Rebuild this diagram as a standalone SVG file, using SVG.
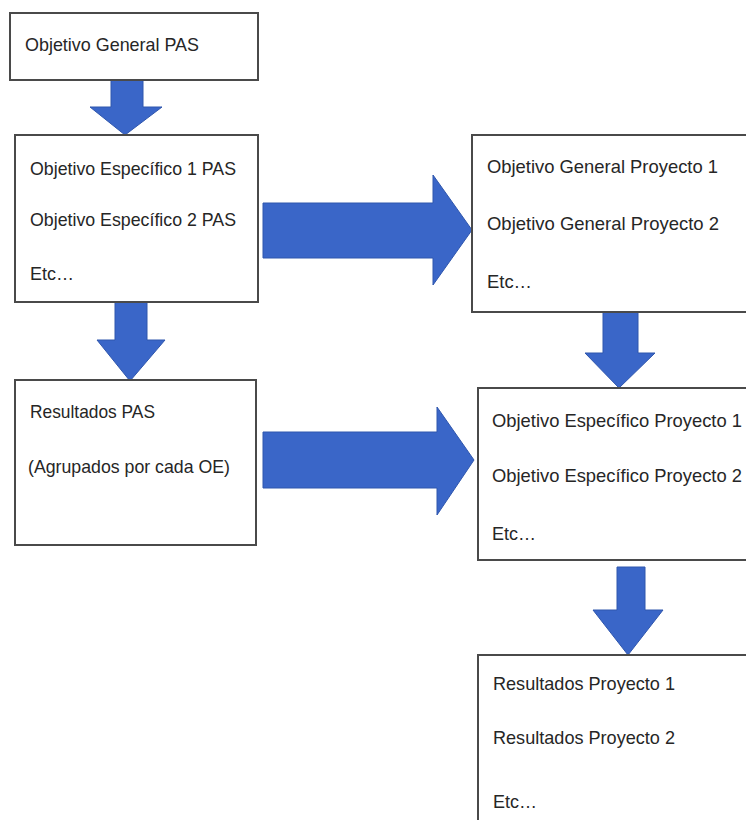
<svg xmlns="http://www.w3.org/2000/svg" width="746" height="820" viewBox="0 0 746 820">
<style>
.box{fill:#fff;stroke:#4a4a4a;stroke-width:2}
.t{font-family:"Liberation Sans",Arial,sans-serif;font-size:18.5px;fill:#262626}
.arr{fill:#3a66c8;stroke:#2f56ad;stroke-width:1}
</style>
<rect width="746" height="820" fill="#fff"/>
<g id="connectors">
<polygon class="arr" points="111,80 143,80 143,107 162,107 125,135 90,107 111,107"/>
<polygon class="arr" points="115,302 147,302 147,340 165,340 130,381 97,340 115,340"/>
<polygon class="arr" points="263,203 433,203 433,175 472,230 433,285 433,258 263,258"/>
<polygon class="arr" points="263,432 437,432 437,407 474,460 437,515 437,488 263,488"/>
<polygon class="arr" points="603,312 638,312 638,353 655,353 619,388 585,353 603,353"/>
<polygon class="arr" points="617,567 645,567 645,610 663,610 628,655 593,610 617,610"/>
</g>
<g id="n1">
<rect class="box" x="10" y="13" width="248" height="67"/>
<text class="t" x="25" y="51" textLength="174" lengthAdjust="spacingAndGlyphs">Objetivo General PAS</text>
</g>
<g id="n2">
<rect class="box" x="15" y="135" width="243" height="167"/>
<text class="t" x="30" y="175" textLength="206" lengthAdjust="spacingAndGlyphs">Objetivo Específico 1 PAS</text>
<text class="t" x="30" y="226" textLength="206" lengthAdjust="spacingAndGlyphs">Objetivo Específico 2 PAS</text>
<text class="t" x="30" y="280" textLength="44" lengthAdjust="spacingAndGlyphs">Etc…</text>
</g>
<g id="n3">
<rect class="box" x="15" y="380" width="241" height="165"/>
<text class="t" x="30" y="418" textLength="125" lengthAdjust="spacingAndGlyphs">Resultados PAS</text>
<text class="t" x="28" y="473" textLength="202" lengthAdjust="spacingAndGlyphs">(Agrupados por cada OE)</text>
</g>
<g id="n4">
<rect class="box" x="472" y="135" width="285" height="177"/>
<text class="t" x="487" y="173" textLength="231" lengthAdjust="spacingAndGlyphs">Objetivo General Proyecto 1</text>
<text class="t" x="487" y="230" textLength="232" lengthAdjust="spacingAndGlyphs">Objetivo General Proyecto 2</text>
<text class="t" x="487" y="288" textLength="45" lengthAdjust="spacingAndGlyphs">Etc…</text>
</g>
<g id="n5">
<rect class="box" x="478" y="388" width="280" height="172"/>
<text class="t" x="492" y="427" textLength="250" lengthAdjust="spacingAndGlyphs">Objetivo Específico Proyecto 1</text>
<text class="t" x="492" y="482" textLength="250" lengthAdjust="spacingAndGlyphs">Objetivo Específico Proyecto 2</text>
<text class="t" x="492" y="540" textLength="44" lengthAdjust="spacingAndGlyphs">Etc…</text>
</g>
<g id="n6">
<rect class="box" x="478" y="655" width="280" height="180"/>
<text class="t" x="493" y="690" textLength="182" lengthAdjust="spacingAndGlyphs">Resultados Proyecto 1</text>
<text class="t" x="493" y="744" textLength="182" lengthAdjust="spacingAndGlyphs">Resultados Proyecto 2</text>
<text class="t" x="493" y="808" textLength="44" lengthAdjust="spacingAndGlyphs">Etc…</text>
</g>
</svg>
